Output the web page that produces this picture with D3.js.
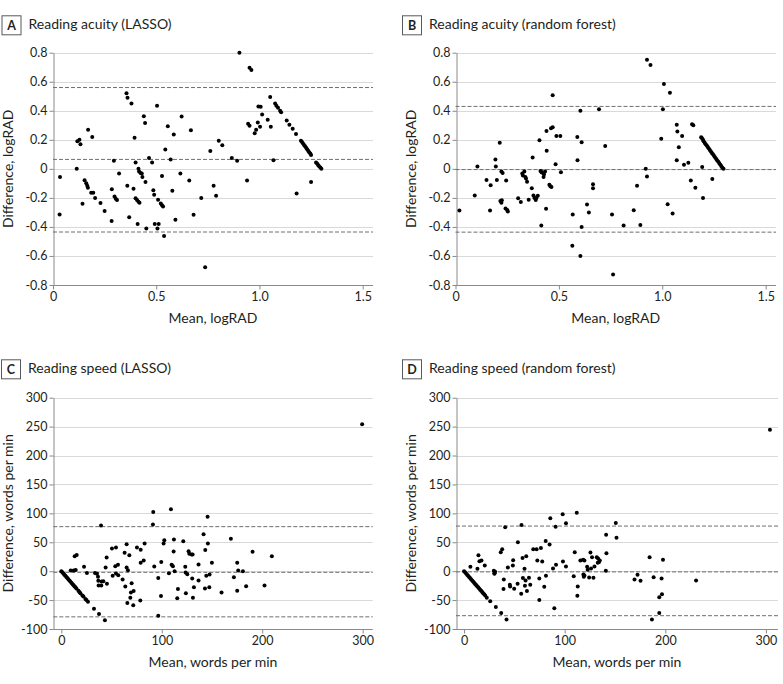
<!DOCTYPE html>
<html><head><meta charset="utf-8">
<script src="https://cdn.jsdelivr.net/npm/d3@7"></script>
<style>
body{margin:0;background:#fff}
svg text{font-family:Lato,"Open Sans",sans-serif;fill:#231f20}
</style>
</head><body>
<svg id="chart" width="783" height="684"></svg>
<script>
// ---------- DATA ----------
const acuityTicksX = [0, 0.5, 1.0, 1.5];
const acuityTicksY = [-0.8, -0.6, -0.4, -0.2, 0, 0.2, 0.4, 0.6, 0.8];
const speedTicksX = [0, 100, 200, 300];
const speedTicksY = [-100, -50, 0, 50, 100, 150, 200, 250, 300];

const panelTitles = ["Reading acuity (LASSO)", "Reading acuity (random forest)", "Reading speed (LASSO)", "Reading speed (random forest)"];
const panelLetters = ["A", "B", "C", "D"];
const xLabels = ["Mean, logRAD", "Mean, logRAD", "Mean, words per min", "Mean, words per min"];
const yLabels = ["Difference, logRAD", "Difference, logRAD", "Difference, words per min", "Difference, words per min"];

// Bland-Altman lines: upper limit, mean bias, lower limit
const linesA = [0.56, 0.065, -0.435];
const linesB = [0.43, -0.005, -0.436];
const linesC = [77, -2, -79];
const linesD = [78, -1.2, -77];

// [mean, difference]
const pointsA = [
[0.118,0.19],[0.128,0.20],[0.133,0.17],[0.115,0.0],[0.17,0.27],[0.19,0.22],[0.295,0.056],[0.356,0.52],[0.361,0.49],[0.38,0.45],[0.395,0.215],[0.40,0.044],[0.414,0.0],[0.44,0.363],[0.446,0.315],[0.465,0.074],[0.48,0.044],[0.504,0.435],[0.544,0.134],[0.556,0.294],[0.57,0.065],[0.585,0.236],[0.623,0.36],[0.668,0.266],
[0.034,-0.056],[0.032,-0.315],[0.143,-0.24],[0.153,-0.078],[0.161,-0.1],[0.166,-0.116],[0.169,-0.13],[0.185,-0.165],[0.195,-0.165],[0.204,-0.2],[0.23,-0.236],[0.25,-0.29],[0.284,-0.36],[0.285,-0.14],[0.298,-0.19],[0.304,-0.206],[0.31,-0.215],[0.32,-0.032],[0.36,-0.116],[0.369,-0.333],[0.39,-0.137],[0.40,-0.203],[0.407,-0.215],[0.414,-0.227],[0.419,-0.234],[0.41,-0.38],[0.417,-0.019],[0.424,-0.028],[0.43,-0.032],[0.433,-0.056],[0.448,-0.09],[0.452,-0.41],[0.486,-0.148],[0.49,-0.178],[0.493,-0.38],[0.506,-0.41],[0.509,-0.213],[0.512,-0.38],[0.522,-0.238],[0.528,-0.25],[0.533,-0.26],[0.528,-0.049],[0.538,-0.463],[0.578,-0.15],[0.593,-0.35],[0.617,-0.032],[0.66,-0.08],[0.681,-0.317],
[0.737,-0.678],[0.718,-0.2],[0.778,-0.116],[0.79,-0.185],[0.866,0.074],[0.892,0.056],[0.94,-0.081],[1.068,0.06],[1.18,-0.17],[1.25,-0.09],
[0.903,0.80],[0.952,0.697],[0.961,0.68],[0.762,0.123],[0.803,0.194],[0.82,0.162],[0.945,0.31],[0.952,0.296],[0.977,0.245],[0.984,0.269],[0.992,0.32],[1.003,0.29],[0.995,0.43],[1.006,0.428],[1.013,0.375],[1.04,0.338],[1.055,0.29],[1.052,0.495],
[1.076,0.45],[1.082,0.435],[1.09,0.42],[1.10,0.40],[1.105,0.39],[1.132,0.333],[1.145,0.303],[1.161,0.277],[1.177,0.24],[1.201,0.194],[1.206,0.185],[1.211,0.175],[1.216,0.165],[1.221,0.155],[1.226,0.145],[1.231,0.135],[1.236,0.125],[1.241,0.115],[1.246,0.105],[1.25,0.095],[1.274,0.044],[1.279,0.036],[1.284,0.027],[1.289,0.018],[1.295,0.009],[1.30,0.0]
];

const pointsB = [
[0.106,0.016],[0.193,0.065],[0.195,0.016],[0.214,0.18],[0.373,0.079],[0.406,0.197],[0.44,0.26],[0.441,0.125],[0.462,0.28],[0.47,0.287],[0.47,0.507],[0.484,0.032],[0.488,0.227],[0.507,0.227],[0.589,0.22],[0.59,0.06],[0.604,0.40],[0.61,0.183],[0.694,0.41],
[0.724,0.157],[0.92,0.0],[0.926,0.752],[0.943,0.715],[0.995,0.208],[1.003,0.41],[1.008,0.585],[1.037,0.525],[1.07,0.303],[1.073,0.257],[1.096,0.227],[1.08,0.148],[1.07,0.06],[1.105,0.028],[1.126,0.042],[1.144,0.308],[1.15,0.30],[1.193,0.012],
[1.188,0.218],[1.192,0.21],[1.197,0.2],[1.20,0.19],[1.205,0.18],[1.21,0.17],[1.215,0.16],[1.22,0.15],[1.225,0.14],[1.23,0.13],[1.235,0.12],[1.24,0.11],[1.245,0.10],[1.25,0.09],[1.255,0.08],[1.26,0.07],[1.265,0.06],[1.27,0.05],[1.275,0.04],[1.28,0.03],[1.285,0.02],[1.29,0.01],[1.296,0.0],
[0.019,-0.287],[0.093,-0.183],[0.15,-0.076],[0.167,-0.287],[0.17,-0.113],[0.2,-0.076],[0.217,-0.222],[0.222,-0.234],[0.224,-0.217],[0.222,-0.019],[0.228,-0.028],[0.245,-0.081],[0.242,-0.273],[0.25,-0.283],[0.253,-0.294],[0.303,-0.203],[0.316,-0.229],[0.323,-0.032],[0.326,-0.046],[0.333,-0.019],[0.338,-0.056],[0.341,-0.067],[0.346,-0.088],[0.354,-0.213],[0.369,-0.134],[0.377,-0.183],[0.382,-0.20],[0.388,-0.215],[0.391,-0.20],[0.398,-0.185],[0.411,-0.014],[0.414,-0.019],[0.417,-0.026],[0.428,-0.037],[0.433,-0.019],[0.426,-0.056],[0.415,-0.39],[0.438,-0.275],[0.454,-0.109],[0.459,-0.12],[0.464,-0.125],[0.51,-0.023],[0.567,-0.315],[0.565,-0.53],[0.604,-0.60],[0.61,-0.40],[0.636,-0.245],[0.645,-0.30],[0.665,-0.106],[0.665,-0.134],
[0.757,-0.315],[0.762,-0.727],[0.813,-0.39],[0.862,-0.285],[0.878,-0.116],[0.894,-0.387],[0.926,-0.053],[1.026,-0.243],[1.05,-0.308],[1.138,-0.08],[1.16,-0.13],[1.197,-0.2],[1.242,-0.07]
];

const pointsC = [
[0,0],[1,-2],[2,-4],[3,-6],[4,-8],[5,-10],[6,-12],[7,-14],[8,-16],[9,-18],[10,-20],[11,-22],[12,-24],[13,-26],[14,-28],[15,-30],[17,-34],[18,-36],[19,-38],[21,-42],[22,-44],[24,-48],[25,-50],[26.5,-53],[32.5,-65],[37.5,-74],[43.4,-85],
[299.5,254],[9.3,1],[12.3,1],[13.3,26],[15.3,28],[14.3,2],[22.6,7.5],[25.5,-3],[33.5,-3],[35.5,-4.6],[36.5,-9.8],[36.8,-16.7],[37.1,-24.8],[39.8,-24.8],[40.1,-17.9],[41.8,-17.3],[39.5,79],[44.1,6.3],[45.1,23.6],[45.4,-21.9],[50.4,39],[51.1,-8],[53.7,8.6],[54.4,41],[54.4,-4],[56.4,11],[56.7,-7],[61,-14.4],[63,32],[63.7,-26.5],[65,46.6],[65,6.3],[66.3,1.7],[65.7,-55],[67.7,27.6],[68.7,-46],[69.3,-37],[70,-21],[71.6,-59],[72,-34.5],[75.3,41],[79,37],[79,14.4],[82,18.4],[78.6,-50.7],[82.9,47.8],[91.2,80.6],[91.5,102.5],[92.5,8],[96.5,-12],[96.5,-77],[99.5,16],[99.2,-43],[101.8,48],[102.5,53.5],[107.1,-3.5],[109.1,107],[109.8,11],[111.1,8.6],[112.1,54.7],[111.8,34],[112.8,0],[116.1,-31],[115.4,-47],[121.4,51.8],[123.4,7.5],[123.7,-2.3],[125.4,-5.2],[124,-38],[126.7,34.5],[127.4,30],[129.7,28.8],[130.7,28.8],[130.3,-12.7],[132,-27.6],[131,-46],[136.6,11.5],[136.6,-16],[141.6,64],[143.3,36.8],[143,-30],[144.3,-8],[145.6,94],[145.9,47.8],[147.6,-5.8],[147.3,-27.6],[149.9,14.4],[159.5,-37],[168.8,56],[171.8,-10.4],[175.1,14.4],[175.1,-34],[176.1,1.2],[180.8,0],[184,-26],[190.4,33.4],[202.3,-24.8],[209.6,26]
];

const pointsD = [
[0,0],[1,-2],[2,-4],[3,-6],[4,-8],[5,-10],[6,-12],[7,-14],[8,-16],[9,-18],[10,-20],[11,-22],[12,-24],[13,-26],[14,-28],[15,-30],[16,-32],[17,-34],[18,-36],[19,-38],[20,-40],[21,-42],[22.6,-46],[26,-52],[31.6,-62],[36.9,-72.5],[42.2,-83.5],
[304,244.7],[6.3,7.5],[13.3,4],[14.3,27.6],[15.3,17.3],[17.3,18.4],[20.6,9.8],[29.6,0.6],[30.2,-3.5],[30.9,-1.2],[30.2,-4.6],[36.5,32.8],[37.9,38],[39.5,-14.4],[39.2,-31],[40.9,76],[43.5,6.3],[45.5,-23.6],[45.8,-26.5],[48.5,9.8],[48.8,19],[49.8,-30.5],[53.2,-21.9],[53.5,50],[56.8,-39],[57.1,80],[58.1,23],[58.5,-12],[60.1,4],[60.5,-25],[61.1,-16],[61.8,26],[62.5,-34.5],[64.5,-11.5],[65.8,-23.6],[68.8,38],[72.1,38],[72.8,18.4],[74.8,-12.7],[74.8,-50],[76.4,40],[77.7,16.7],[79.7,-27],[81.1,52],[85,46],[81.4,-8],[85.7,91.5],[88.4,4.6],[89.7,-64],[91,77],[91.4,11],[98,98.5],[98.3,16.7],[101.3,83],[101.3,8],[109,-8.6],[110,32.8],[112,101],[113,-26.5],[112.6,-42.6],[115.6,18.4],[118.3,19.6],[119.6,18.4],[118.6,-5.8],[119,-9.8],[119.6,-7.5],[122.3,7.5],[122.9,2.3],[124.3,-11],[125.6,32.2],[126.2,4.6],[127.2,24],[128.6,-11.5],[129.6,8],[131.9,24],[133.2,22],[132.9,14.4],[134.2,16],[134.9,18.4],[141.2,62.8],[140.9,0.6],[141.5,31],[150.8,83.5],[151.5,58],[169.4,-14.4],[172.4,-6.3],[175.4,-16.7],[184.4,24],[186.7,-83.5],[188.4,-10.4],[194,-72.5],[194,-45],[196.3,-12.7],[196.7,-39.7],[197.7,19.6],[230.6,-16]
];

// ---------- LAYOUT ----------
const panels = [
  {pts: pointsA, lines: linesA, xd: [0, 1.55], yd: [-0.8, 0.8], xr: [53, 373], yr: [285, 52.7], tx: acuityTicksX, ty: acuityTicksY, fx: d3.format(".1f"), fy: d3.format(".1f"), bx: 1.5, by: 15.3},
  {pts: pointsB, lines: linesB, xd: [0, 1.55], yd: [-0.8, 0.8], xr: [455.5, 776], yr: [285, 52.7], tx: acuityTicksX, ty: acuityTicksY, fx: d3.format(".1f"), fy: d3.format(".1f"), bx: 402, by: 15.3},
  {pts: pointsC, lines: linesC, xd: [-8, 310], yd: [-100, 300], xr: [53.3, 372.7], yr: [629, 397.7], tx: speedTicksX, ty: speedTicksY, fx: d3.format("d"), fy: d3.format("d"), bx: 1, by: 359.3},
  {pts: pointsD, lines: linesD, xd: [-8, 312], yd: [-100, 300], xr: [456, 778], yr: [629, 397.7], tx: speedTicksX, ty: speedTicksY, fx: d3.format("d"), fy: d3.format("d"), bx: 402, by: 359.3}
];

const svg = d3.select("#chart");
const fmtZero = f => (v => v === 0 ? "0" : f(v).replace("\u2212", "-"));

panels.forEach((p, i) => {
  const x = d3.scaleLinear().domain(p.xd).range(p.xr);
  const y = d3.scaleLinear().domain(p.yd).range(p.yr);
  const g = svg.append("g");

  // title
  g.append("rect").attr("x", p.bx + 0.5).attr("y", p.by + 0.5).attr("width", 19).attr("height", 19)
    .attr("fill", "#fff").attr("stroke", "#58595b").attr("stroke-width", 1);
  g.append("text").attr("x", p.bx + 10).attr("y", p.by + 14.5).attr("text-anchor", "middle")
    .style("font-size", "12.5px").style("font-weight", "bold").text(panelLetters[i]);
  g.append("text").attr("x", p.bx + 27).attr("y", p.by + 14).style("font-size", "14px").text(panelTitles[i]);

  // gridlines
  g.append("g").selectAll("line").data(p.ty).join("line")
    .attr("x1", p.xr[0]).attr("x2", p.xr[1])
    .attr("y1", d => Math.round(y(d)) + 0.5).attr("y2", d => Math.round(y(d)) + 0.5)
    .attr("stroke", "#d9d9d9").attr("stroke-width", 1);

  // axes
  const ax = g.append("g").attr("transform", `translate(0,${Math.round(p.yr[0]) + 0.5})`)
    .call(d3.axisBottom(x).tickValues(p.tx).tickFormat(fmtZero(p.fx)).tickSize(4).tickPadding(3).tickSizeOuter(0));
  const ay = g.append("g").attr("transform", `translate(${Math.round(p.xr[0]) + 0.5},0)`)
    .call(d3.axisLeft(y).tickValues(p.ty).tickFormat(fmtZero(p.fy)).tickSize(4).tickPadding(2).tickSizeOuter(0));
  [ax, ay].forEach(a => {
    a.select(".domain").attr("stroke", "#8a8a8a");
    a.selectAll(".tick line").attr("stroke", "#8a8a8a");
    a.selectAll(".tick text").style("font-size", "12.5px").style("font-family", "Lato,'Open Sans',sans-serif").attr("fill", "#231f20");
  });
  ax.select(".domain").attr("d", `M${p.xr[0]},0H${p.xr[1]}`);

  // Bland-Altman dashed lines
  g.append("g").selectAll("line").data(p.lines).join("line")
    .attr("x1", p.xr[0]).attr("x2", p.xr[1])
    .attr("y1", d => y(d)).attr("y2", d => y(d))
    .attr("stroke", "#6d6e71").attr("stroke-width", 1).attr("stroke-dasharray", "4,2");

  // points
  g.append("g").selectAll("circle").data(p.pts).join("circle")
    .attr("cx", d => x(d[0])).attr("cy", d => y(d[1])).attr("r", 2).attr("fill", "#000");

  // axis labels
  g.append("text").attr("x", (p.xr[0] + p.xr[1]) / 2).attr("y", p.yr[0] + 38)
    .attr("text-anchor", "middle").style("font-size", "14px").text(xLabels[i]);
  g.append("text").attr("transform", `translate(${p.xr[0] - 40},${(p.yr[0] + p.yr[1]) / 2}) rotate(-90)`)
    .attr("text-anchor", "middle").style("font-size", "14px").text(yLabels[i]);
});
</script>
</body></html>
